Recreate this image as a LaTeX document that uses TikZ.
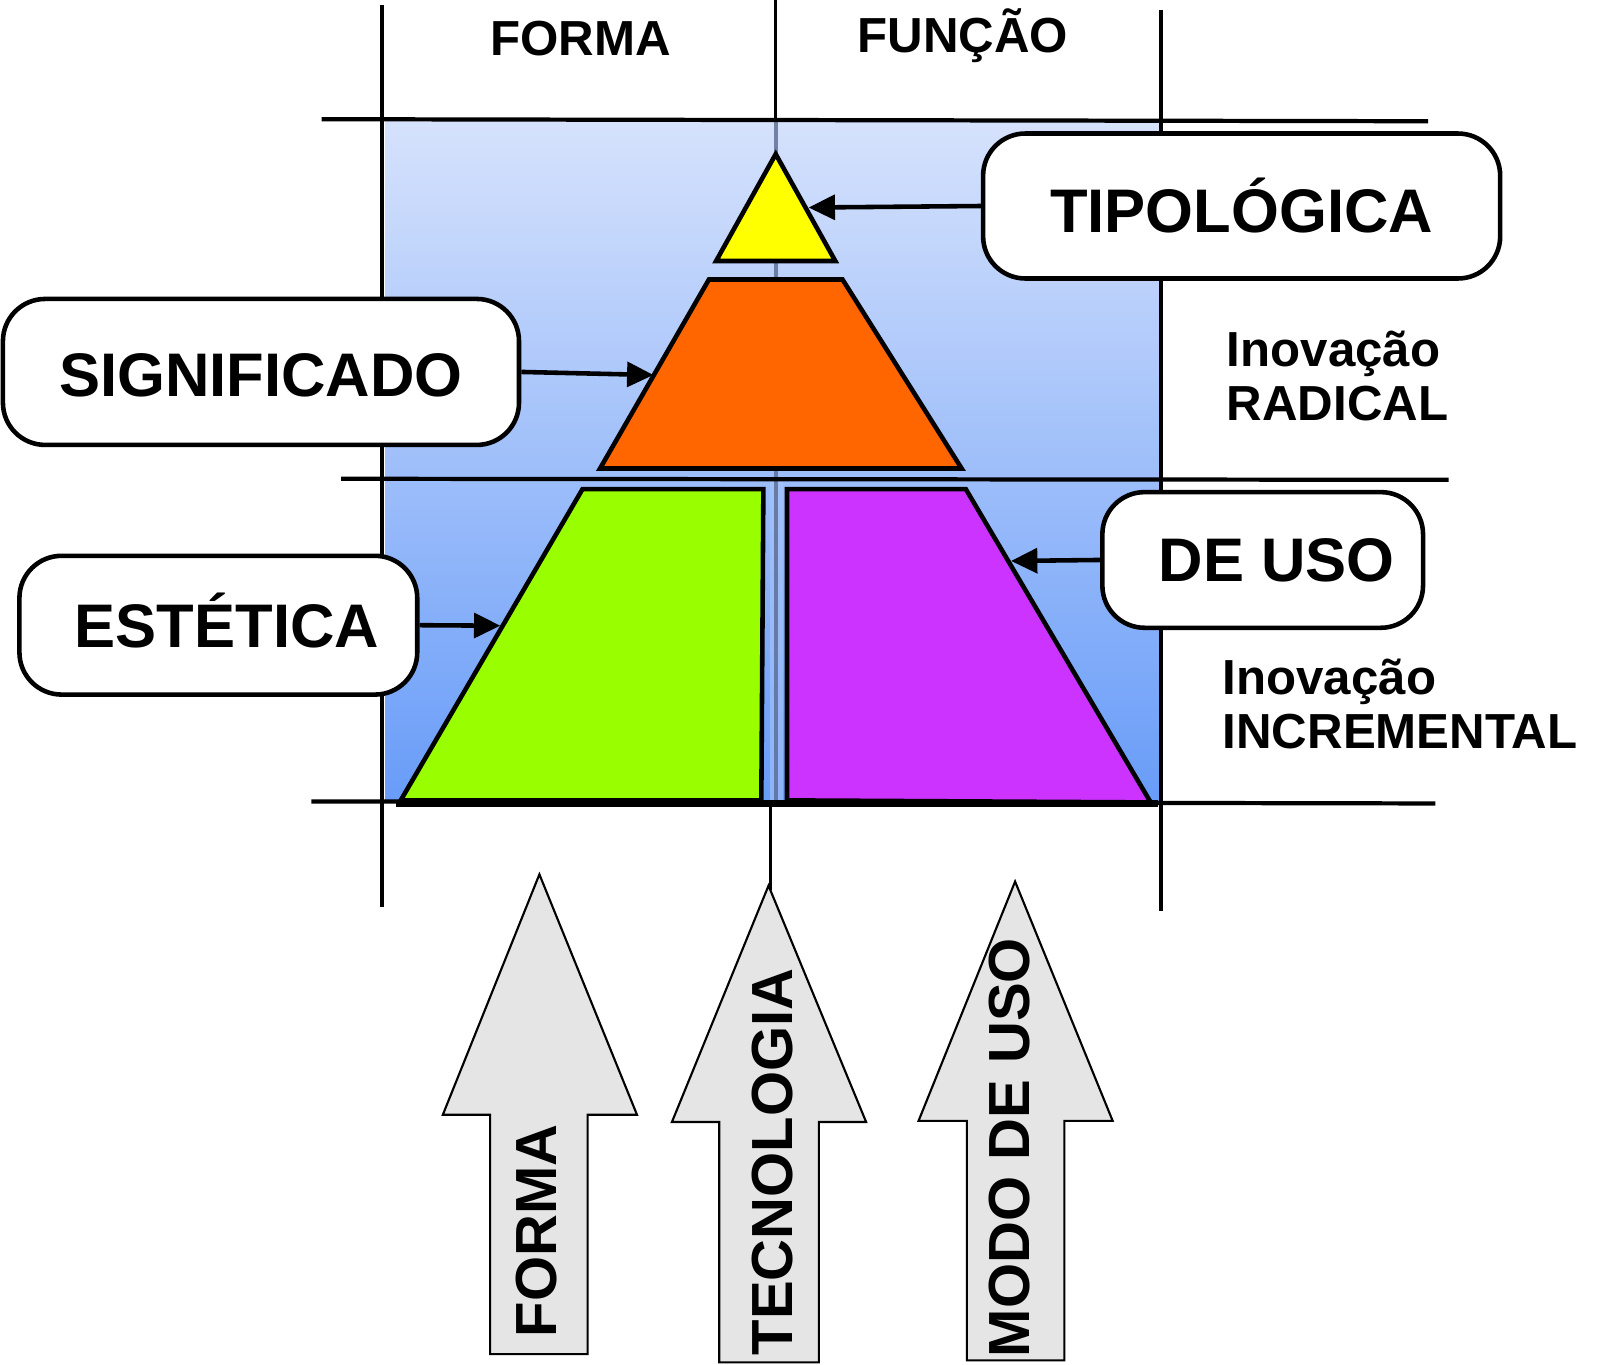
\documentclass[tikz,border=0pt]{standalone}
\usepackage{fontspec}
\setmainfont{Liberation Sans}
\usetikzlibrary{arrows.meta,positioning}

\definecolor{skytop}{RGB}{214,226,252}
\definecolor{skybottom}{RGB}{104,156,248}
\definecolor{tipyellow}{RGB}{255,255,0}
\definecolor{sigorange}{RGB}{255,102,0}
\definecolor{estgreen}{RGB}{153,255,0}
\definecolor{usopurple}{RGB}{204,51,255}
\definecolor{arrowgray}{RGB}{229,229,229}
\definecolor{midline}{RGB}{90,106,144}

\begin{document}
\begin{tikzpicture}
	% Styles
	[x=0.010274cm, y=-0.010274cm,
	gridline/.style={line width=1pt},
	level/.style={draw,line width=1.3pt,line join=miter},
	labelbox/.style={rectangle,rounded corners=12pt,draw,fill=white,line width=1.3pt,inner sep=0pt,font=\fontsize{17.5}{21}\selectfont\bfseries},
	pointer/.style={line width=1.3pt,-{Triangle[length=7.5pt,width=7pt]}},
	blockarrow/.style={draw,line width=0.6pt,fill=arrowgray,line join=miter},
	arrowtext/.style={rotate=90,font=\fontsize{16.5}{20}\selectfont\bfseries},
	headtext/.style={font=\fontsize{14}{16}\selectfont\bfseries},
	sidetext/.style={anchor=west,align=left,font=\fontsize{14}{15.5}\selectfont\bfseries},
	]

	% Canvas
	\path[fill=white,use as bounding box] (0,0) rectangle (1568,1328);

	% Background
	\shade[top color=skytop,bottom color=skybottom] (375,118) rectangle (1130,781);
	\fill[skybottom!60!white,opacity=0.6] (749,468) rectangle (762,779);
	\draw[midline,line width=1.2pt,opacity=0.8] (755,116) -- (755,781);

	% Grid
	\draw[gridline] (372,5) -- (372,883);
	\draw[gridline] (755,0) -- (755,116);
	\draw[gridline] (750,781) -- (750,866);
	\draw[gridline] (1130,10) -- (1130,887);
	\draw[gridline,line width=1.2pt] (313,116) -- (1390,118);
	\draw[gridline,line width=1.2pt] (332,466) -- (1410,467);
	\draw[gridline,line width=1.2pt] (303,780) -- (1397,782);

	% Pyramid
	\draw[level,fill=tipyellow] (755,150) -- (813,254) -- (697,254) -- cycle;
	\draw[level,fill=sigorange] (690,272) -- (820,272) -- (936,456) -- (584,456) -- cycle;
	\draw[level,fill=estgreen] (567,476) -- (743,476) -- (741,779) -- (390,779) -- cycle;
	\draw[level,fill=usopurple] (766,476) -- (940,476) -- (1120,781) -- (766,779) -- cycle;
	\draw[line width=1.8pt] (385,782) -- (1127,782);

	% Nodes
	\node at (1208.5,200.5) (tipo) [labelbox,minimum width=5.168cm,minimum height=1.449cm] {TIPOLÓGICA};
	\node at (254,362) (sig) [labelbox,minimum width=5.158cm,minimum height=1.459cm,text height=14pt] {SIGNIFICADO};
	\node at (212.5,608.5) (est) [labelbox,minimum width=3.976cm,minimum height=1.387cm,text height=12.5pt,text depth=0pt] {\hspace{0.17cm}ESTÉTICA};
	\node at (1229,545) (uso) [labelbox,minimum width=3.205cm,minimum height=1.356cm] {\hspace{0.28cm}DE USO};
	\coordinate (tipoTip) at (787,202);
	\coordinate (sigTip) at (636,365);
	\coordinate (estTip) at (487,609);
	\coordinate (usoTip) at (984,546);

	% Arrows
	\draw[pointer] (tipo.west) -- (tipoTip);
	\draw[pointer] (sig.east) -- (sigTip);
	\draw[pointer] (est.east) -- (estTip);
	\draw[pointer] (uso.west) -- (usoTip);

	% Block arrows
	\draw[blockarrow] (525,851) -- (620,1085) -- (572,1085) -- (572,1318) -- (477,1318) -- (477,1085) -- (431,1085) -- cycle;
	\draw[blockarrow] (748,862) -- (843,1092) -- (797,1092) -- (797,1326) -- (700,1326) -- (700,1092) -- (654,1092) -- cycle;
	\draw[blockarrow] (988,858) -- (1083,1091) -- (1036,1091) -- (1036,1324) -- (941,1324) -- (941,1091) -- (894,1091) -- cycle;

	% Text
	\node at (565,38) (formaHead) [headtext] {FORMA};
	\node at (937,35) (funcaoHead) [headtext] {FUNÇÃO};
	\node at (1182,366) (radical) [sidetext] {Inovação\\RADICAL};
	\node at (1178,685) (incremental) [sidetext] {Inovação\\INCREMENTAL};
	\node at (522,1198) (formaArrow) [arrowtext] {FORMA};
	\node at (752,1131) (tecArrow) [arrowtext] {TECNOLOGIA};
	\node at (983,1117) (usoArrow) [arrowtext] {MODO DE USO};
\end{tikzpicture}
\end{document}
